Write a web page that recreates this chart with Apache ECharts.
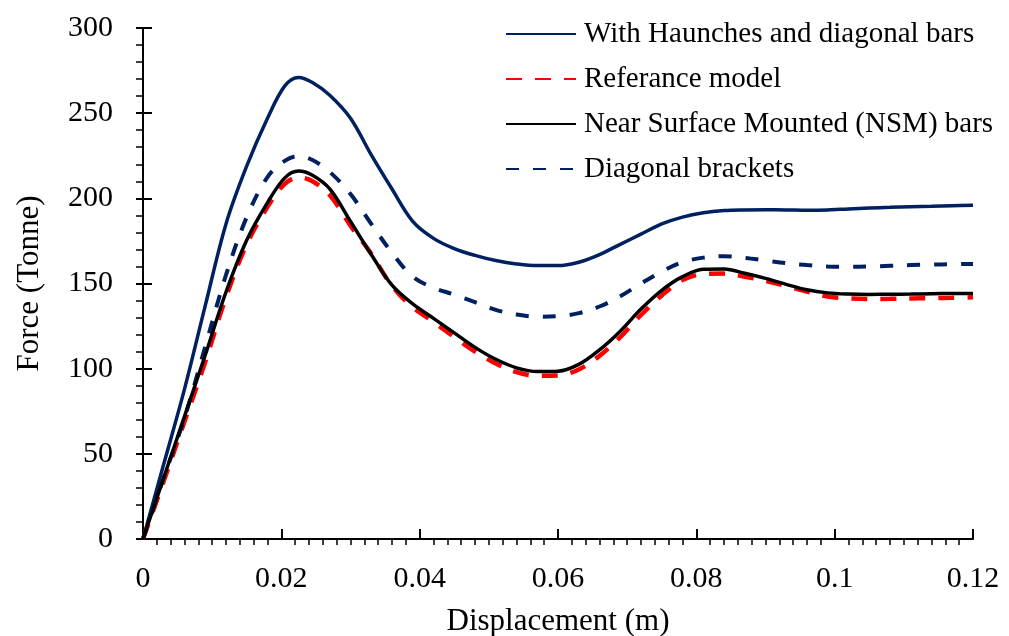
<!DOCTYPE html>
<html>
<head>
<meta charset="utf-8">
<script src="https://cdn.jsdelivr.net/npm/echarts@6/dist/echarts.min.js"></script>
<style>
html,body{margin:0;padding:0;background:#fff;}
#chart{width:1009px;height:636px;}
</style>
</head>
<body>
<div id="chart"></div>
<script>
// ---- data (Displacement m, Force Tonne) ----
const seriesNames = [
  'With Haunches and diagonal bars',
  'Referance model',
  'Near Surface Mounted (NSM) bars',
  'Diagonal brackets'
];
const displacement = [0,0.003,0.006,0.009,0.012,0.015,0.018,0.0205,0.0225,0.0245,0.027,0.030,0.033,0.036,0.039,0.042,0.045,0.048,0.051,0.054,0.057,0.060,0.063,0.066,0.069,0.072,0.075,0.078,0.081,0.084,0.087,0.090,0.093,0.096,0.099,0.102,0.105,0.108,0.111,0.114,0.117,0.120];
const haunches  = [0,44,88,137,185,219,247,266,271,268,260.5,247,225.5,205.5,186.5,176.5,170.5,166.5,163.5,161.5,160.5,160.5,162.5,167,173,179,185,189,191.5,192.8,193.2,193.3,193.2,193,193.2,193.8,194.3,194.7,195.1,195.4,195.7,196];
const reference = [0,34,69,104,142,173,195,208.5,212.3,210,202,184,167.5,148.5,136,127.5,118.5,110,103,98,95.8,96,99.5,107.5,118.5,131.5,143,152,155.5,155.8,154,151.5,148.5,145.2,142.4,141.3,140.9,141,141.2,141.4,141.6,141.9];
const nsm       = [0,36,72,108,145,175.5,197.5,212,216,213.5,205.5,186.5,167,149,138,129.5,121,112.5,105.5,100.5,98.3,98.5,102.5,111,122,135,146,154,158.3,158.5,156,153,149.5,146.3,144.5,143.8,143.6,143.7,143.8,144,144.1,144.2];
const brackets  = [0,36,71,113,155,189,212.5,222,224.8,222.5,215.5,202.5,185,168,154,147.5,143.5,139,134.5,131.8,130.5,130.8,132.6,136.5,142.5,150,157,162.5,165.2,166,165,163.5,162,160.8,160,159.8,160,160.4,160.8,161.1,161.3,161.5];
const xTicks = {min: 0, max: 0.12, interval: 0.02};
const yTicks = {min: 0, max: 300, interval: 50};

const FONT = '"Liberation Serif", "Times New Roman", serif';
const navy = '#002060';
const pair = ys => displacement.map((x, i) => [x, ys[i]]);

const chart = echarts.init(document.getElementById('chart'));
const mainAxisLine = {show: true, lineStyle: {color: '#000', width: 2}};
const lineCommon = {type: 'line', smooth: 0.35, symbol: 'none'};
chart.setOption({
  animation: false,
  grid: {left: 143, right: 36, top: 28, bottom: 97, containLabel: false, outerBoundsMode: 'none'},
  legend: {
    orient: 'vertical',
    left: 500, top: 13,
    itemWidth: 70, itemHeight: 14, itemGap: 13,
    itemStyle: {opacity: 0},
    textStyle: {fontFamily: FONT, fontSize: 29, color: '#000', lineHeight: 32, padding: [0, 0, 0, 3]},
    data: seriesNames
  },
  xAxis: [{
    type: 'value', min: xTicks.min, max: xTicks.max, interval: xTicks.interval,
    position: 'bottom',
    axisLine: Object.assign({onZero: false}, mainAxisLine),
    axisTick: {show: true, inside: true, length: 10, lineStyle: {color: '#000', width: 2}},
    axisLabel: {fontFamily: FONT, fontSize: 30, color: '#000', margin: 25},
    splitLine: {show: false},
    name: 'Displacement (m)', nameLocation: 'middle', nameGap: 67,
    nameTextStyle: {fontFamily: FONT, fontSize: 31, color: '#000'}
  }, {
    type: 'value', min: xTicks.min, max: xTicks.max, interval: xTicks.interval,
    position: 'bottom',
    axisLine: {show: false, onZero: false},
    axisTick: {show: false},
    minorTick: {show: true, splitNumber: 10, length: 6, lineStyle: {color: '#000', width: 1.5}},
    axisLabel: {show: false},
    splitLine: {show: false}
  }],
  yAxis: [{
    type: 'value', min: yTicks.min, max: yTicks.max, interval: yTicks.interval,
    position: 'left',
    axisLine: Object.assign({onZero: false}, mainAxisLine),
    axisTick: {show: true, inside: true, length: 9, lineStyle: {color: '#000', width: 2}},
    axisLabel: {fontFamily: FONT, fontSize: 30, color: '#000', margin: 30},
    splitLine: {show: false},
    name: 'Force (Tonne)', nameLocation: 'middle', nameGap: 98, nameRotate: 90,
    nameTextStyle: {fontFamily: FONT, fontSize: 31, color: '#000'}
  }, {
    type: 'value', min: yTicks.min, max: yTicks.max, interval: yTicks.interval,
    position: 'left',
    axisLine: {show: false, onZero: false},
    axisTick: {show: true, inside: false, length: 7, lineStyle: {color: '#000', width: 2}},
    minorTick: {show: true, splitNumber: 5, length: 7, lineStyle: {color: '#000', width: 1.5}},
    axisLabel: {show: false},
    splitLine: {show: false}
  }],
  series: [Object.assign({}, lineCommon, {
    name: seriesNames[0], data: pair(haunches),
    lineStyle: {color: navy, width: 3.5}, itemStyle: {color: navy}, z: 2
  }), Object.assign({}, lineCommon, {
    name: seriesNames[1], data: pair(reference),
    lineStyle: {color: '#ff0000', width: 4.5, type: [16, 13]}, itemStyle: {color: '#ff0000'}, z: 2
  }), Object.assign({}, lineCommon, {
    name: seriesNames[2], data: pair(nsm),
    lineStyle: {color: '#000', width: 3.5}, itemStyle: {color: '#000'}, z: 3
  }), Object.assign({}, lineCommon, {
    name: seriesNames[3], data: pair(brackets),
    lineStyle: {color: navy, width: 4, type: [13, 14]}, itemStyle: {color: navy}, z: 2
  })]
});
</script>
</body>
</html>
